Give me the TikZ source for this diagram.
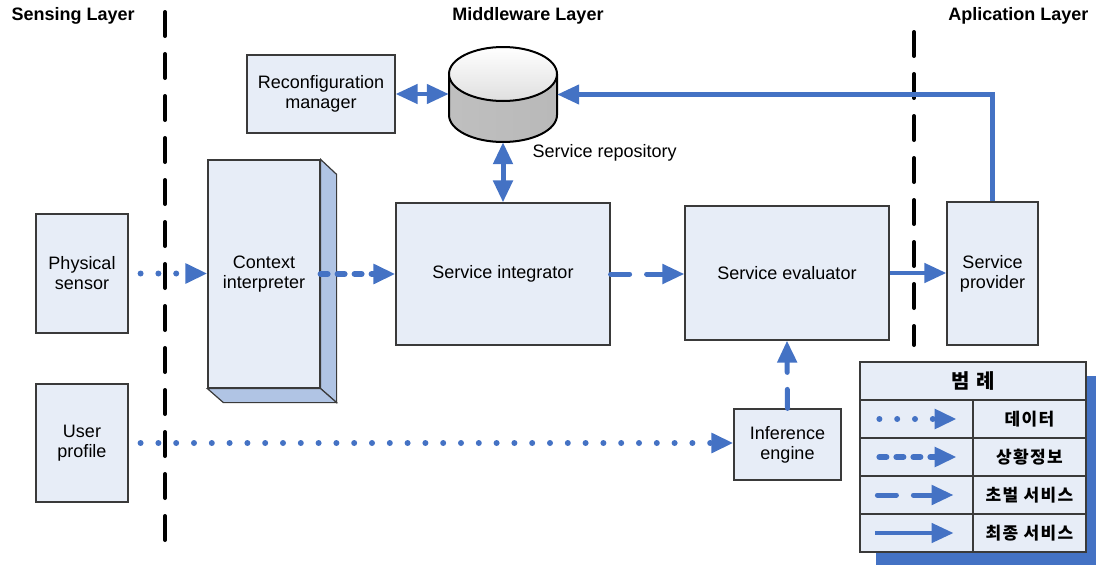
\documentclass[tikz,border=0pt]{standalone}
\usepackage{fontspec}
\setmainfont{Liberation Sans}
\newfontfamily\hangul[LetterSpace=8]{Noto Sans CJK KR}
\usepackage{xcolor}
\usepackage{tikz}
\usetikzlibrary{positioning, arrows.meta, calc}
\definecolor{BoxFill}{HTML}{E7EDF7}
\definecolor{BoxSide}{HTML}{B0C4E4}
\definecolor{BoxLine}{HTML}{3A3A3A}
\definecolor{FlowBlue}{HTML}{4472C4}

\begin{document}
\begin{tikzpicture}[
                x=1pt, y=-1pt,
                >={Triangle[length=22pt, width=19pt]},
                box/.style={rectangle, draw=BoxLine, fill=BoxFill, line width=1.2pt, inner sep=2pt, align=center, font=\fontsize{18}{20}\selectfont},
                layertitle/.style={font=\bfseries\fontsize{18}{20}\selectfont},
                layerline/.style={line width=4pt, dash pattern=on 24pt off 18pt, line cap=round},
                datafl/.style={->, FlowBlue, line width=6pt, line cap=round, dash pattern=on 0pt off 17.8pt},
                ctxfl/.style={->, FlowBlue, line width=6pt, line cap=round, dash pattern=on 7pt off 10pt},
                draftfl/.style={->, FlowBlue, line width=5pt, line cap=round, dash pattern=on 19pt off 17pt},
                finalfl/.style={->, FlowBlue, line width=4.5pt},
                legcell/.style={rectangle, draw=BoxLine, fill=BoxFill, line width=1.2pt, minimum width=113, minimum height=38, inner sep=0pt, font=\hangul\bfseries\fontsize{17}{19}\selectfont}
            ]
                \useasboundingbox (0,0) rectangle (1096,565);

                % Layer titles and borders
                \node[layertitle, anchor=west] (senslbl) at (8,16) {Sensing Layer};
                \node[layertitle] (midlbl) at (528,16) {Middleware Layer};
                \node[layertitle, anchor=east] (applbl) at (1092,16) {Aplication Layer};
                \draw[layerline] (165,12) -- (165,540);
                \draw[layerline] (914,32) -- (914,345);

                % Nodes
                \node[box, minimum width=148, minimum height=78] (recon) at (321,94) {Reconfiguration\\manager};
                \node[box, minimum width=92, minimum height=119] (sensor) at (82,273.5) {Physical\\sensor};
                \node[box, minimum width=92, minimum height=118] (user) at (82,443) {User\\profile};
                \node[box, minimum width=112, minimum height=228] (ctx) at (264,274) {Context\\interpreter};
                \node[box, minimum width=214, minimum height=142] (integ) at (503,274) {Service integrator};
                \node[box, minimum width=204, minimum height=134] (eval) at (787,273) {Service evaluator};
                \node[box, minimum width=91, minimum height=143] (prov) at (992.5,273.5) {Service\\provider};
                \node[box, minimum width=107, minimum height=71] (infer) at (787.5,444.5) {Inference\\engine};

                % 3D faces of the interpreter
                \draw[BoxLine, fill=BoxSide, line width=1.2pt] (ctx.north east) -- ++(16,15) -- ($(ctx.south east)+(16,14)$) -- (ctx.south east) -- cycle;
                \draw[BoxLine, fill=BoxSide, line width=1.2pt] (ctx.south west) -- ++(16,14) -- ($(ctx.south east)+(16,14)$) -- (ctx.south east) -- cycle;

                % Repository drum
                \node[minimum width=108, minimum height=95, inner sep=0pt] (repo) at (503,94.5) {};
                \shade[left color=gray!50, middle color=gray!10, right color=gray!55] (449,74) -- (449,115) arc[start angle=180, end angle=0, x radius=54, y radius=27] -- (557,74) -- cycle;
                \draw[line width=2pt] (449,74) -- (449,115) arc[start angle=180, end angle=0, x radius=54, y radius=27] -- (557,74);
                \shade[top color=white, bottom color=gray!25, draw=black, line width=2pt] (503,74) ellipse[x radius=54, y radius=27];
                \node[anchor=west, font=\fontsize{18}{20}\selectfont] (repolbl) at (529,153) {Service repository};

                % Flows
                \draw[datafl, shorten <=12pt] (sensor.east) -- (sensor.east -| ctx.west);
                \draw[ctxfl] (ctx.east) -- (integ.west);
                \draw[draftfl] (integ.east) -- (integ.east -| eval.west);
                \draw[finalfl] (eval.east) -- (eval.east -| prov.west);
                \draw[datafl, shorten <=12pt] (user.east) -- (user.east -| infer.west);
                \draw[draftfl] (infer.north) -- (eval.south);
                \draw[finalfl] (prov.north) |- (repo.east);
                \draw[finalfl, <->] (recon.east) -- (recon.east -| repo.west);
                \draw[draftfl, <->] (repo.south) -- (integ.north);

                % Legend
                \fill[FlowBlue] (876,376) rectangle (1096,565);
                \node[legcell, minimum width=226, font=\hangul\bfseries\fontsize{20}{22}\selectfont] (leghead) at (973,381) {범\,\,례};
                \node[legcell] (legdatal) at (916.5,419) {};
                \node[legcell] (legdatar) at (1029.5,419) {데이터};
                \node[legcell] (legctxl) at (916.5,457) {};
                \node[legcell] (legctxr) at (1029.5,457) {상황정보};
                \node[legcell] (legdraftl) at (916.5,495) {};
                \node[legcell] (legdraftr) at (1029.5,495) {초벌 서비스};
                \node[legcell] (legfinall) at (916.5,533) {};
                \node[legcell] (legfinalr) at (1029.5,533) {최종 서비스};

                \draw[datafl] ($(legdatal.west)+(20,0)$) -- ($(legdatal.east)+(-17,0)$);
                \draw[ctxfl] ($(legctxl.west)+(20,0)$) -- ($(legctxl.east)+(-17,0)$);
                \draw[draftfl] ($(legdraftl.west)+(18,0)$) -- ($(legdraftl.east)+(-20,0)$);
                \draw[finalfl] ($(legfinall.west)+(16,0)$) -- ($(legfinall.east)+(-20,0)$);
            \end{tikzpicture}
\end{document}
